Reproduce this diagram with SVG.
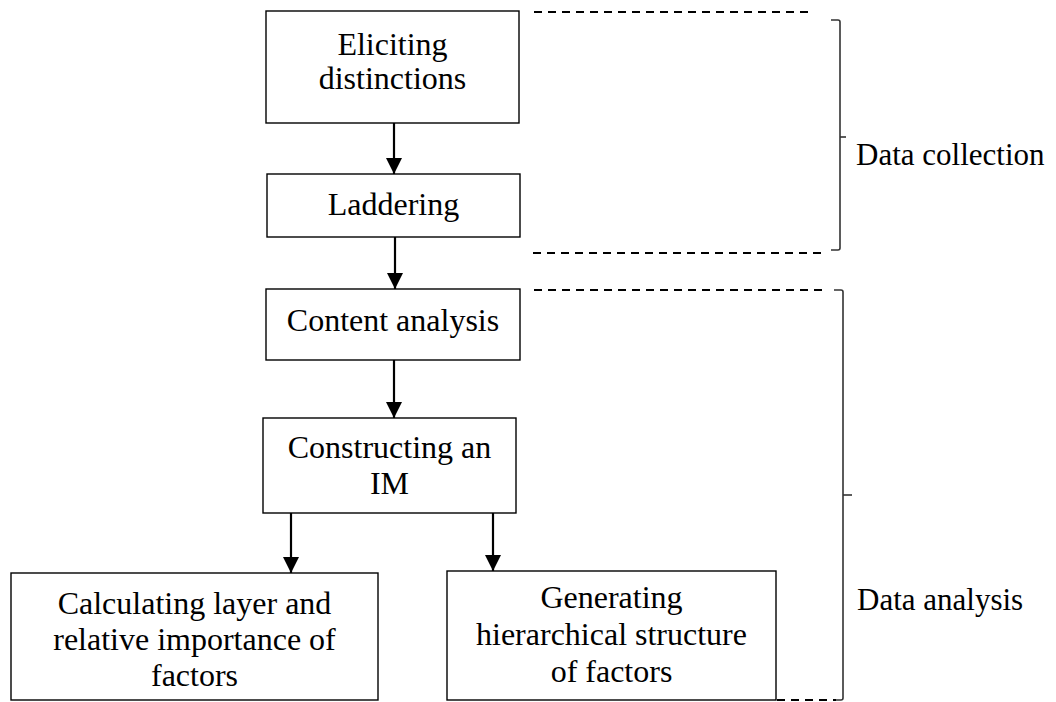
<svg xmlns="http://www.w3.org/2000/svg" width="1056" height="702" viewBox="0 0 1056 702">
  <style>
    .box { fill: #ffffff; stroke: #000000; stroke-width: 1.4; }
    .lbl { font-family: "Liberation Serif", "Times New Roman", serif; font-size: 32px; fill: #000000; text-anchor: middle; }
    .side { font-family: "Liberation Serif", "Times New Roman", serif; font-size: 31px; fill: #000000; }
    .arrow { stroke: #000000; stroke-width: 2.2; fill: none; marker-end: url(#head); }
    .dash { stroke: #000000; stroke-width: 2; fill: none; stroke-dasharray: 8 6; }
    .brace { stroke: #333333; stroke-width: 1.6; fill: none; }
  </style>
  <defs>
    <marker id="head" viewBox="0 0 16 16" refX="16" refY="8" markerWidth="16" markerHeight="16" markerUnits="userSpaceOnUse" orient="auto">
      <path d="M0,0 L16,8 L0,16 Z" fill="#000000"/>
    </marker>
  </defs>

  <rect width="1056" height="702" fill="#ffffff"/>

  <!-- process steps -->
  <g id="eliciting">
    <rect class="box" x="266" y="11" width="253" height="112"/>
    <text class="lbl" x="392.5" y="55">Eliciting</text>
    <text class="lbl" x="392.5" y="89">distinctions</text>
  </g>

  <g id="laddering">
    <rect class="box" x="267" y="174" width="253" height="63"/>
    <text class="lbl" x="393.5" y="215">Laddering</text>
  </g>

  <g id="content-analysis">
    <rect class="box" x="266" y="289" width="254" height="71"/>
    <text class="lbl" x="393" y="331">Content analysis</text>
  </g>

  <g id="constructing-im">
    <rect class="box" x="263" y="418" width="253" height="95"/>
    <text class="lbl" x="389.5" y="458">Constructing an</text>
    <text class="lbl" x="389.5" y="494">IM</text>
  </g>

  <g id="calculating-layer">
    <rect class="box" x="11" y="573" width="367" height="127"/>
    <text class="lbl" x="194.5" y="614">Calculating layer and</text>
    <text class="lbl" x="194.5" y="650">relative importance of</text>
    <text class="lbl" x="194.5" y="686">factors</text>
  </g>

  <g id="generating-structure">
    <rect class="box" x="447" y="571" width="329" height="129"/>
    <text class="lbl" x="611.5" y="608">Generating</text>
    <text class="lbl" x="611.5" y="645">hierarchical structure</text>
    <text class="lbl" x="611.5" y="682">of factors</text>
  </g>

  <!-- flow arrows -->
  <g id="connectors">
    <line class="arrow" x1="394" y1="123" x2="394" y2="174"/>
    <line class="arrow" x1="395" y1="237" x2="395" y2="289"/>
    <line class="arrow" x1="394" y1="360" x2="394" y2="418"/>
    <line class="arrow" x1="291" y1="513" x2="291" y2="573"/>
    <line class="arrow" x1="493" y1="513" x2="493" y2="571"/>
  </g>

  <!-- phase brackets -->
  <g id="phase-collection">
    <line class="dash" x1="534" y1="12" x2="810" y2="12"/>
    <line class="dash" x1="533" y1="253" x2="827" y2="253"/>
    <path class="brace" d="M831,20 L838,20 Q840,20 840,22 L840,248 Q840,250 838,250 L831,250"/>
    <line class="brace" x1="840" y1="137" x2="846" y2="137"/>
    <text class="side" x="856" y="165">Data collection</text>
  </g>

  <g id="phase-analysis">
    <line class="dash" x1="534" y1="290" x2="824" y2="290"/>
    <line class="dash" x1="777" y1="700" x2="836" y2="700"/>
    <path class="brace" d="M834,290 L841,290 Q843,290 843,292 L843,698 Q843,700 841,700 L836,700"/>
    <line class="brace" x1="843" y1="495" x2="852" y2="495"/>
    <text class="side" x="857" y="610">Data analysis</text>
  </g>
</svg>
